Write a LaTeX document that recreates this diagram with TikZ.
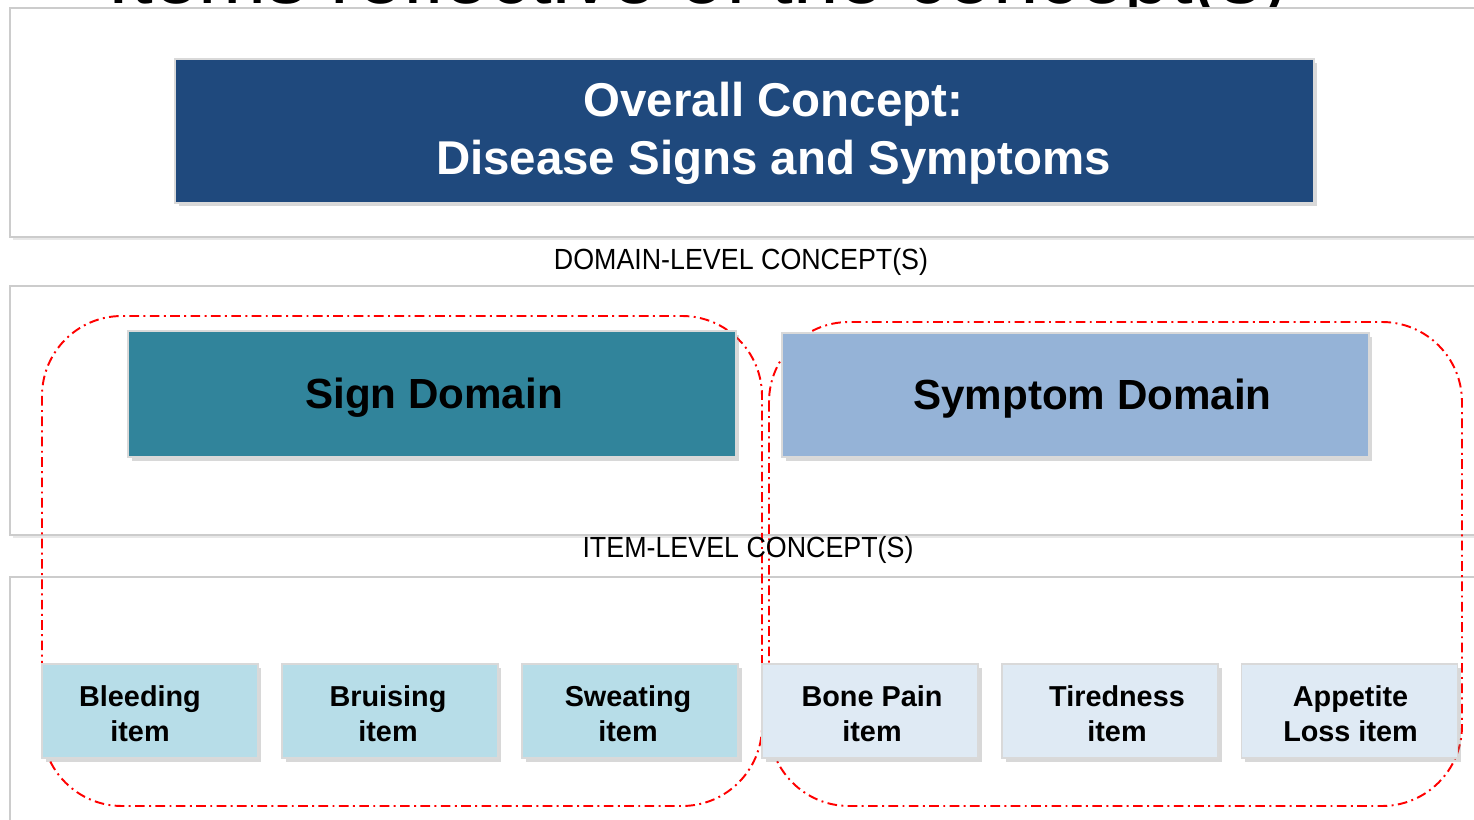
\documentclass[tikz,border=0pt]{standalone}
\usepackage{fontspec}
\setmainfont{Liberation Sans}
\usetikzlibrary{shadows}

\definecolor{navy}{RGB}{31,73,125}
\definecolor{teal}{RGB}{49,132,155}
\definecolor{steel}{RGB}{149,179,215}
\definecolor{signitem}{RGB}{183,221,232}
\definecolor{symitem}{RGB}{223,234,244}
\definecolor{linkblue}{RGB}{79,129,189}

\begin{document}
\begin{tikzpicture}[x=0.02cm, y=-0.02cm,
    panel/.style={draw=black!20, line width=1pt, fill=white,
      drop shadow={shadow xshift=1.5pt, shadow yshift=-1.5pt, opacity=0.18}},
    cbox/.style={rectangle, draw=white!85!black, line width=0.8pt,
      drop shadow={shadow xshift=2pt, shadow yshift=-2pt, opacity=0.3}},
    itembox/.style={cbox, minimum width=4.32cm, minimum height=1.88cm},
    itemtxt/.style={align=center, font=\fontsize{16.4}{19.8}\selectfont\bfseries},
    domtxt/.style={font=\fontsize{24}{28}\selectfont\bfseries},
    lvltxt/.style={font=\fontsize{16.6}{19}\selectfont},
    grp/.style={draw=red, line width=1.1pt, rounded corners=1.6cm,
      dash pattern=on 5.5pt off 2.5pt on 1.1pt off 2.5pt}]
\clip (0,0) rectangle (1474,820);
\fill[white] (0,0) rectangle (1474,820);

%% heading, cut off by the page top
\node[anchor=base, font=\fontsize{46.5}{50}\selectfont] (heading) at (698,4)
  {Items reflective of the concept(s)};
\draw[linkblue, line width=0.6pt] (250,8) -- (1255,8);

%% three panels
\draw[panel] (10,8) rectangle (1500,237);
\draw[panel] (10,286) rectangle (1500,535);
\draw[panel] (10,577) rectangle (1500,850);

%% red groupings (under the boxes)
\draw[grp] (42,316) rectangle (762,806);
\draw[grp] (769,322) rectangle (1462,806);

%% top level
\node[cbox, fill=navy, minimum width=22.78cm, minimum height=2.88cm] (overall) at (744.5,131) {};
\node[align=center, text=white, font=\fontsize{27}{32.9}\selectfont\bfseries]
  (overall-txt) at ([xshift=0.58cm, yshift=-0.04cm]overall.center)
  {Overall Concept:\\Disease Signs and Symptoms};

\node[lvltxt] (domlvl) at (741,262) {\scalebox{0.92}[1]{DOMAIN-LEVEL CONCEPT(S)}};
\node[lvltxt] (itemlvl) at (748,550) {\scalebox{0.92}[1]{ITEM-LEVEL CONCEPT(S)}};

%% domains
\node[cbox, fill=teal, minimum width=12.16cm, minimum height=2.52cm] (sign) at (432,394) {};
\node[domtxt] (sign-txt) at ([xshift=0.04cm, yshift=-0.08cm]sign.center) {Sign Domain};
\node[cbox, fill=steel, minimum width=11.74cm, minimum height=2.48cm] (symptom) at (1075.5,395) {};
\node[domtxt] (symptom-txt) at ([xshift=0.34cm, yshift=-0.08cm]symptom.center) {Symptom Domain};

%% items
\foreach \n/\x/\dx/\t in {bleeding/150/-10/{Bleeding\\item},
                          bruising/390/-2/{Bruising\\item},
                          sweating/630/-2/{Sweating\\item}}{
  \node[itembox, fill=signitem] (\n) at (\x,711) {};
  \node[itemtxt] (\n-txt) at (\x+\dx,714) {\t};
}
\foreach \n/\x/\dx/\t in {bonepain/870/2/{Bone Pain\\item},
                          tiredness/1110/7/{Tiredness\\item},
                          appetite/1349.5/1/{Appetite\\Loss item}}{
  \node[itembox, fill=symitem] (\n) at (\x,711) {};
  \node[itemtxt] (\n-txt) at (\x+\dx,714) {\t};
}
\end{tikzpicture}
\end{document}
